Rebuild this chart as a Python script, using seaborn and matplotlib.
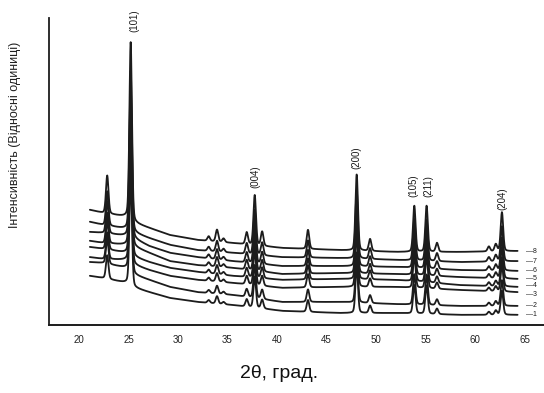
import numpy as np
import pandas as pd
import matplotlib
matplotlib.use("Agg")
import matplotlib.pyplot as plt
import seaborn as sns

# ---- data ----
# baseline knots (2theta, degrees) and baseline intensity of each pattern (a.u.)
knot_2theta = [21.1, 22.4, 24.8, 25.6, 27.1, 29.2, 32.0, 35.5, 40.5, 46.3, 52.0, 58.5, 64.3]
baseline_1 = [16.0, 15.3, 13.7, 12.1, 10.7, 8.8, 7.5, 6.5, 4.6, 3.9, 3.9, 3.3, 3.3]
baseline_2 = [20.5, 20.2, 18.6, 16.3, 14.7, 12.4, 10.7, 9.8, 7.5, 7.5, 6.8, 6.2, 6.2]
baseline_3 = [22.1, 21.5, 21.2, 19.5, 17.9, 16.0, 14.7, 13.7, 12.1, 12.4, 12.4, 11.4, 10.7]
baseline_4 = [25.4, 24.8, 23.5, 22.1, 20.5, 18.6, 17.3, 16.0, 14.7, 15.0, 14.7, 13.0, 12.4]
baseline_5 = [27.4, 26.7, 26.1, 25.4, 23.5, 20.8, 19.5, 18.6, 16.6, 16.9, 16.6, 15.6, 15.0]
baseline_6 = [30.3, 30.0, 29.0, 28.0, 25.7, 23.5, 22.1, 20.8, 19.2, 19.2, 18.9, 17.9, 17.6]
baseline_7 = [33.6, 32.6, 31.3, 30.0, 28.3, 26.1, 24.4, 23.5, 22.1, 21.8, 21.2, 20.5, 20.8]
baseline_8 = [37.5, 36.5, 35.2, 33.2, 31.6, 29.3, 27.7, 26.7, 25.1, 24.4, 23.8, 23.8, 24.1]
curve_names = ["1", "2", "3", "4", "5", "6", "7", "8"]
# vertical position of the pattern number at the right end
curve_label_y = [3.3, 6.2, 10.0, 12.9, 15.3, 17.7, 20.8, 24.1]

# diffraction peaks: position (2theta) and height above baseline for pattern 8
peak_pos = [22.85, 25.22, 33.1, 33.94, 34.6, 36.94, 37.75, 38.5, 43.13,
            48.05, 49.4, 53.87, 55.11, 56.16, 61.4, 62.1, 62.72]
peak_height = [12.4, 58.0, 1.5, 3.9, 1.2, 3.9, 16.3, 4.6, 6.2,
               24.8, 3.9, 15.0, 15.0, 2.9, 1.6, 2.3, 12.7]
curve_scale = [0.62, 0.66, 0.70, 0.75, 0.80, 0.85, 0.90, 1.00]

# Miller-index labels: text, x position, y of the label's lower end
hkl_text = ["(101)", "(004)", "(200)", "(105)", "(211)", "(204)"]
hkl_x = [25.6, 37.85, 48.05, 53.8, 55.25, 62.75]
hkl_y = [95.3, 44.6, 50.8, 41.8, 41.8, 37.6]

x_ticks = [20, 25, 30, 35, 40, 45, 50, 55, 60, 65]

# ---- build long-form table ----
baselines = [baseline_1, baseline_2, baseline_3, baseline_4,
             baseline_5, baseline_6, baseline_7, baseline_8]
tt = np.linspace(knot_2theta[0], knot_2theta[-1], 5000)
fwhm = 0.30
sig = fwhm / 2.3548
gam = fwhm / 2
rows = []
for name, base, sc in zip(curve_names, baselines, curve_scale):
    y = np.interp(tt, knot_2theta, base)
    for p, h in zip(peak_pos, peak_height):
        g = np.exp(-0.5 * ((tt - p) / sig) ** 2)
        l = gam ** 2 / ((tt - p) ** 2 + gam ** 2)
        y = y + sc * h * (0.75 * g + 0.25 * l)
    rows.append(pd.DataFrame({"tt": tt, "I": y, "curve": name}))
df = pd.concat(rows, ignore_index=True)

# ---- plot ----
sns.set_style("white")
plt.rcParams["font.family"] = ["Liberation Sans", "DejaVu Sans"]

fig = plt.figure(figsize=(5.44, 3.93), dpi=100)
ax = fig.add_axes([49 / 544, 68 / 393, (544 - 49) / 544, (325 - 18) / 393])

sns.lineplot(data=df, x="tt", y="I", units="curve", estimator=None,
             color="#1c1c1c", linewidth=1.3, sort=False, legend=False, ax=ax)

ax.set_xlim(16.97, 66.97)
ax.set_ylim(0, 100)
ax.set_xticks(x_ticks)
ax.set_xticklabels([str(t) for t in x_ticks], fontsize=7, color="#222222")
ax.set_yticks([50])
ax.set_yticklabels([])
ax.tick_params(axis="x", direction="out", length=3, width=1, pad=4, color="#333333")
ax.tick_params(axis="y", direction="out", length=3, width=1, color="#333333")
ax.set_xlabel("")
ax.set_ylabel("")
for s in ["top", "right"]:
    ax.spines[s].set_visible(False)
ax.spines["left"].set_linewidth(1.3)
ax.spines["bottom"].set_linewidth(1.4)
ax.spines["left"].set_color("#1c1c1c")
ax.spines["bottom"].set_color("#1c1c1c")

for t, x, y in zip(hkl_text, hkl_x, hkl_y):
    ax.text(x, y, t, rotation=90, ha="center", va="bottom", fontsize=7, color="#1c1c1c")

for name, ly in zip(curve_names, curve_label_y):
    ax.text(65.2, ly, "\u2014" + name, ha="left", va="center",
            fontsize=5, color="#1c1c1c", clip_on=False)

fig.text(15 / 544, 1 - 135 / 393, "Інтенсивність (Відносні одиниці)",
         rotation=90, ha="center", va="center", fontsize=9, color="#222222")
fig.text(279 / 544, 1 - 373 / 393, "2θ, град.", ha="center", va="center",
         fontsize=14, color="#111111")

fig.savefig("out.png", dpi=100)
